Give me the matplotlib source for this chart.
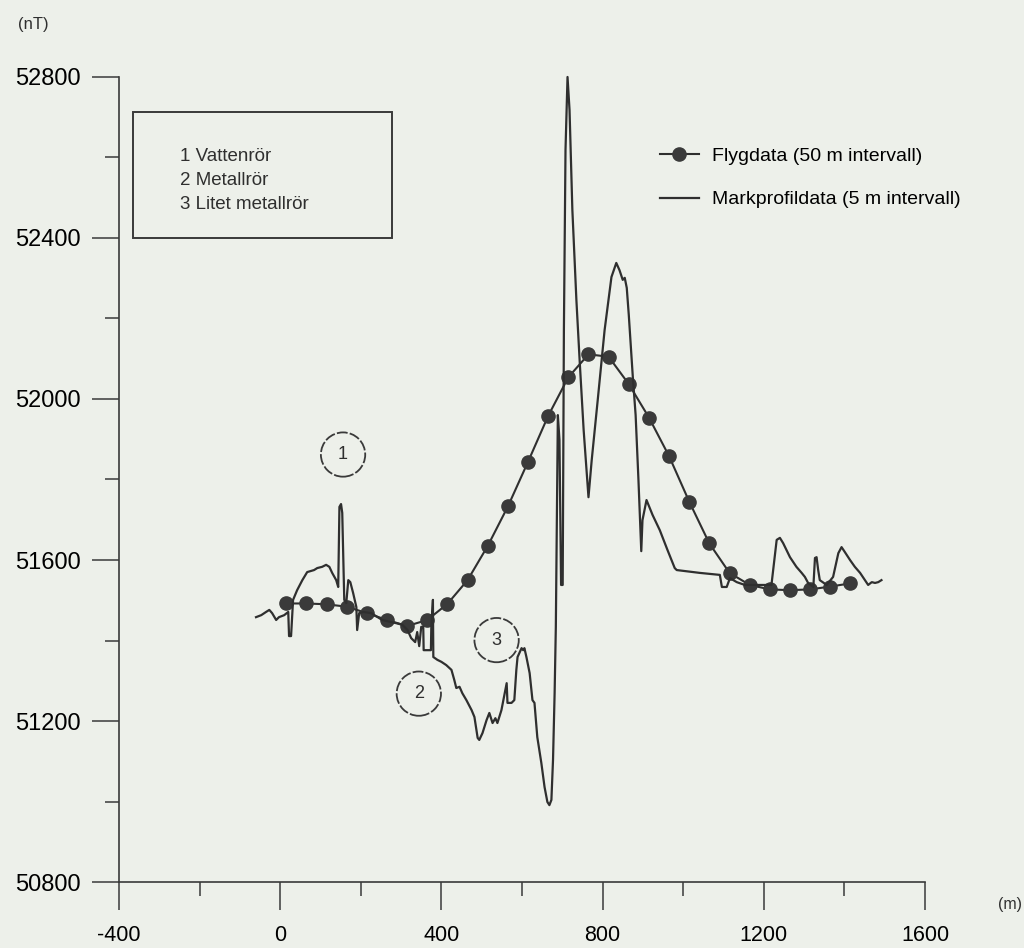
import matplotlib
matplotlib.use("Agg")
import matplotlib.pyplot as plt
from matplotlib.patches import Circle, Rectangle
from matplotlib.ticker import MultipleLocator

plt.rcParams['font.family'] = ['Liberation Sans', 'DejaVu Sans']
plt.rcParams['axes.unicode_minus'] = False

BG = '#edf0ea'
INK = '#2f2f2f'

# Flygdata, 50 m intervall
fly_x = [15, 65, 115, 165, 215, 265, 315, 365, 415, 465,
         515, 565, 615, 665, 715, 765, 815, 865, 915, 965,
         1015, 1065, 1115, 1165, 1215, 1265, 1315, 1365, 1415]
fly_y = [51492, 51492, 51490, 51484, 51468, 51451, 51436, 51451, 51491, 51550,
         51635, 51733, 51844, 51958, 52054, 52111, 52105, 52037, 51954, 51858,
         51745, 51641, 51568, 51538, 51527, 51525, 51527, 51534, 51542]

# Markprofildata, 5 m intervall (traced vertices)
ground_x = [-60, -47, -35, -27, -20, -10, -3, 10, 20, 22,
            27, 32, 42, 55, 67, 84, 92, 104, 114, 122,
            129, 139, 144, 147, 151, 154, 159, 164, 169, 174,
            181, 189, 191, 196, 206, 226, 253, 288, 303, 316,
            325, 335, 340, 345, 350, 355, 356, 374, 375, 379,
            380, 390, 400, 412, 425, 432, 437, 445, 452, 462,
            475, 482, 490, 494, 502, 512, 519, 527, 534, 539,
            549, 562, 564, 574, 581, 586, 589, 599, 603, 606,
            611, 619, 626, 631, 638, 648, 656, 663, 668, 673,
            677, 681, 684, 687, 689, 693, 697, 701, 704, 708,
            713, 718, 725, 735, 743, 753, 765, 773, 788, 805,
            822, 834, 842, 850, 855, 860, 865, 870, 875, 882,
            889, 896, 899, 909, 924, 942, 961, 979, 984, 1041,
            1091, 1096, 1108, 1116, 1133, 1153, 1190, 1219, 1232, 1240,
            1248, 1265, 1281, 1294, 1302, 1310, 1323, 1327, 1331, 1335,
            1339, 1356, 1372, 1385, 1393, 1401, 1414, 1426, 1439, 1451,
            1459, 1468, 1476, 1484, 1492]
ground_y = [51458, 51463, 51471, 51476, 51468, 51451, 51458, 51463, 51471, 51411,
            51411, 51501, 51525, 51550, 51570, 51575, 51580, 51583, 51588, 51583,
            51568, 51550, 51533, 51732, 51739, 51717, 51501, 51493, 51550, 51545,
            51518, 51483, 51426, 51468, 51471, 51468, 51451, 51443, 51439, 51426,
            51406, 51396, 51421, 51386, 51434, 51434, 51376, 51376, 51434, 51501,
            51359, 51352, 51347, 51339, 51327, 51302, 51282, 51285, 51269, 51252,
            51227, 51210, 51158, 51153, 51170, 51202, 51220, 51195, 51207, 51195,
            51227, 51294, 51245, 51245, 51252, 51327, 51359, 51381, 51376, 51381,
            51359, 51319, 51252, 51245, 51160, 51096, 51036, 50999, 50991, 51004,
            51103, 51270, 51434, 51749, 51960, 51898, 51538, 51538, 52171, 52619,
            52800, 52718, 52470, 52246, 52097, 51923, 51756, 51848, 51998, 52171,
            52303, 52338, 52320, 52296, 52301, 52276, 52209, 52134, 52055, 51960,
            51799, 51622, 51699, 51749, 51712, 51674, 51625, 51580, 51575, 51568,
            51563, 51533, 51533, 51555, 51545, 51538, 51538, 51538, 51650, 51655,
            51642, 51607, 51583, 51568, 51558, 51543, 51533, 51605, 51607, 51575,
            51550, 51538, 51558, 51617, 51632, 51620, 51600, 51583, 51568, 51550,
            51538, 51545, 51543, 51545, 51550]

notes = ['1 Vattenrör', '2 Metallrör', '3 Litet metallrör']
marks = [('1', 156, 51862), ('2', 344, 51268), ('3', 537, 51401)]

fig = plt.figure(figsize=(10.24, 9.48), dpi=100, facecolor=BG)
ax = fig.add_axes([0.1162, 0.0696, 0.7871, 0.8492])
ax.set_facecolor(BG)

ax.plot(fly_x, fly_y, '-o', color=INK, lw=1.5, ms=9.5, mfc='#3a3a3a', mec='#3a3a3a',
        label='Flygdata (50 m intervall)')
ax.plot(ground_x, ground_y, '-', color=INK, lw=1.6, clip_on=False,
        label='Markprofildata (5 m intervall)')

ax.set_xlim(-400, 1600)
ax.set_ylim(50800, 52800)
ax.xaxis.set_major_locator(MultipleLocator(400))
ax.xaxis.set_minor_locator(MultipleLocator(200))
ax.yaxis.set_major_locator(MultipleLocator(400))
ax.yaxis.set_minor_locator(MultipleLocator(200))

for s in ['top', 'right']:
    ax.spines[s].set_visible(False)
for s in ['left', 'bottom']:
    ax.spines[s].set_linewidth(1.2)
    ax.spines[s].set_color('#3a3a3a')

ax.tick_params(axis='both', which='both', direction='out', color='#3a3a3a', width=1.1)
ax.tick_params(axis='y', which='major', length=19.5, pad=8, labelsize=17)
ax.tick_params(axis='y', which='minor', length=10)
ax.tick_params(axis='x', which='major', length=20, pad=11, labelsize=15.5)
ax.tick_params(axis='x', which='minor', length=10)

fig.text(33 / 1024, 1 - 25 / 948, '(nT)', fontsize=12, ha='center', va='center', color=INK)
fig.text(1010 / 1024, 1 - 904 / 948, '(m)', fontsize=11.5, ha='center', va='center', color=INK)

# note box
ax.add_patch(Rectangle((0.0174, 0.80), 0.3213, 0.1565, transform=ax.transAxes,
                       fill=False, lw=1.4, ec='#3a3a3a'))
for i, t in enumerate(notes):
    ax.text(0.0757, 0.9006 - i * 0.0292, t, transform=ax.transAxes, fontsize=13.5,
            va='center', ha='left', color=INK)

# numbered circles
for num, cx, cy in marks:
    ax.add_patch(Circle((cx, cy), 55, fill=False, lw=1.3, ec='#3a3a3a', ls=(0, (6, 1.2))))
    ax.text(cx, cy, num, fontsize=13, ha='center', va='center', color=INK)

ax.legend(loc='upper left', bbox_to_anchor=(0.6445, 0.845), bbox_transform=fig.transFigure,
          frameon=False, fontsize=14, handlelength=2.0, handletextpad=0.7,
          labelspacing=1.35, borderpad=0, borderaxespad=0, numpoints=1, markerscale=1.0)

fig.savefig('out.png', dpi=100, facecolor=BG)
